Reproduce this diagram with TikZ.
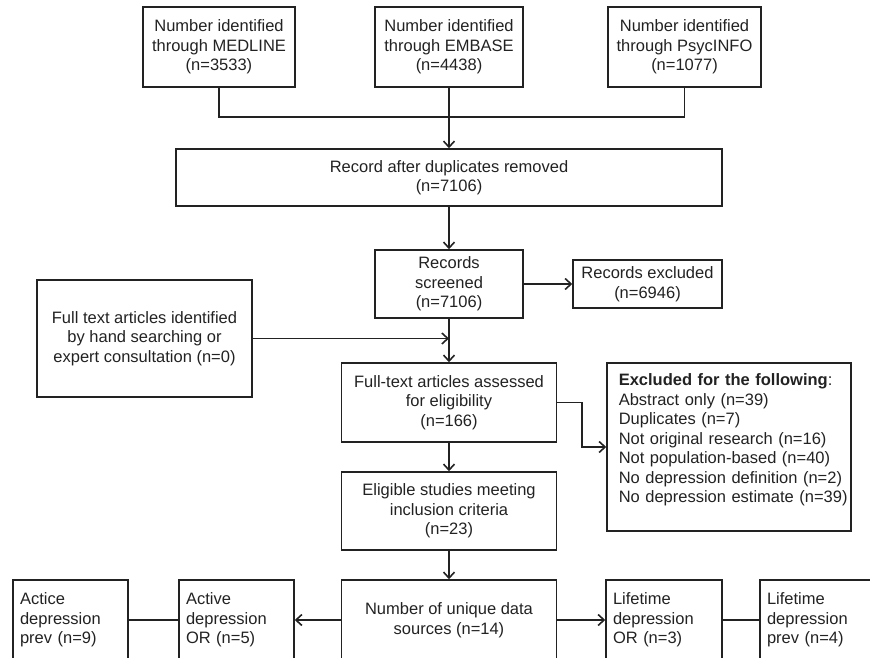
\documentclass[tikz,border=0pt]{standalone}
\usepackage{fontspec}
\setmainfont{Liberation Sans}
\usetikzlibrary{arrows.meta}
\definecolor{ink}{HTML}{222222}
\tikzset{
  box/.style={draw=ink, line width=1.5pt, align=center, inner sep=4pt, text=ink,
    font=\fontsize{16.5}{19.5}\selectfont},
  leftbox/.style={box, align=left, anchor=north west, inner sep=0pt, text width=#1},
  arr/.style={draw=ink, line width=1.6pt, -{Straight Barb[length=6pt,width=11pt]}},
  ln/.style={draw=ink, line width=1.5pt}
}
\begin{document}
\begin{tikzpicture}[x=1pt,y=-1pt]
      \useasboundingbox (0,0) rectangle (870,658);
      \clip (0,0) rectangle (870,658);
      % searches
      \node[box, minimum width=152, minimum height=80] (med) at (219,47) {Number identified\\through MEDLINE\\(n=3533)};
      \node[box, minimum width=148, minimum height=80] (emb) at (449,47) {Number identified\\through EMBASE\\(n=4438)};
      \node[box, minimum width=153, minimum height=80] (psy) at (684.5,47) {Number identified\\through PsycINFO\\(n=1077)};
      \node[box, minimum width=546, minimum height=57] (rec) at (449,177.5) {Record after duplicates removed\\(n=7106)};
      % screening
      \node[box, minimum width=148, minimum height=68] (scr) at (449,284) {Records\\screened\\(n=7106)};
      \node[box, minimum width=149, minimum height=48] (exc) at (647.5,284) {Records excluded\\(n=6946)};
      \node[box, minimum width=215, minimum height=117] (hand) at (144.5,338.5) {Full text articles identified\\by hand searching or\\expert consultation (n=0)};
      \node[box, minimum width=215, minimum height=79] (full) at (449,402.5) {Full-text articles assessed\\for eligibility\\(n=166)};
      \node[box, minimum width=244, minimum height=168] (excl) at (729,447) {};
      \node[leftbox=232pt, draw=none] (excltxt) at (618,373) {\textbf{Excluded for the following}:\\Abstract only (n=39)\\Duplicates (n=7)\\Not original research (n=16)\\Not population-based (n=40)\\No depression definition (n=2)\\No depression estimate (n=39)};
      \node[box, minimum width=215, minimum height=78] (elig) at (449,511) {Eligible studies meeting\\inclusion criteria\\(n=23)};
      % data sources
      \node[box, minimum width=215, minimum height=80] (uniq) at (449,620) {Number of unique data\\sources (n=14)};
      \node[box, align=left, text width=101pt, inner sep=7pt, minimum height=80] (aor) at (236.5,620) {Active\\depression\\OR (n=5)};
      \node[box, align=left, text width=101pt, inner sep=7pt, minimum height=80] (aprev) at (70.5,620) {Actice\\depression\\prev (n=9)};
      \node[box, align=left, text width=102pt, inner sep=7pt, minimum height=80] (lor) at (664,620) {Lifetime\\depression\\OR (n=3)};
      \node[box, align=left, text width=116pt, inner sep=7pt, minimum height=80] (lprev) at (825,620) {Lifetime\\depression\\prev (n=4)};
      % connectors
      \draw[ln] (med.south) |- (219,117) -| (psy.south);
      \draw[arr] (emb.south) -- (rec.north);
      \draw[arr] (rec.south) -- (scr.north);
      \draw[arr] (scr.east) -- (exc.west);
      \draw[arr] (scr.south) -- (full.north);
      \coordinate (join) at (449,338.5);
      \draw[arr] (hand.east) -- (join);
      \draw[arr] (full.east) -- (582,402.5) |- (excl.west);
      \draw[arr] (full.south) -- (elig.north);
      \draw[arr] (elig.south) -- (uniq.north);
      \draw[arr] (uniq.west) -- (aor.east);
      \draw[ln] (aor.west) -- (aprev.east);
      \draw[arr] (uniq.east) -- (lor.west);
      \draw[ln] (lor.east) -- (lprev.west);
\end{tikzpicture}
\end{document}
